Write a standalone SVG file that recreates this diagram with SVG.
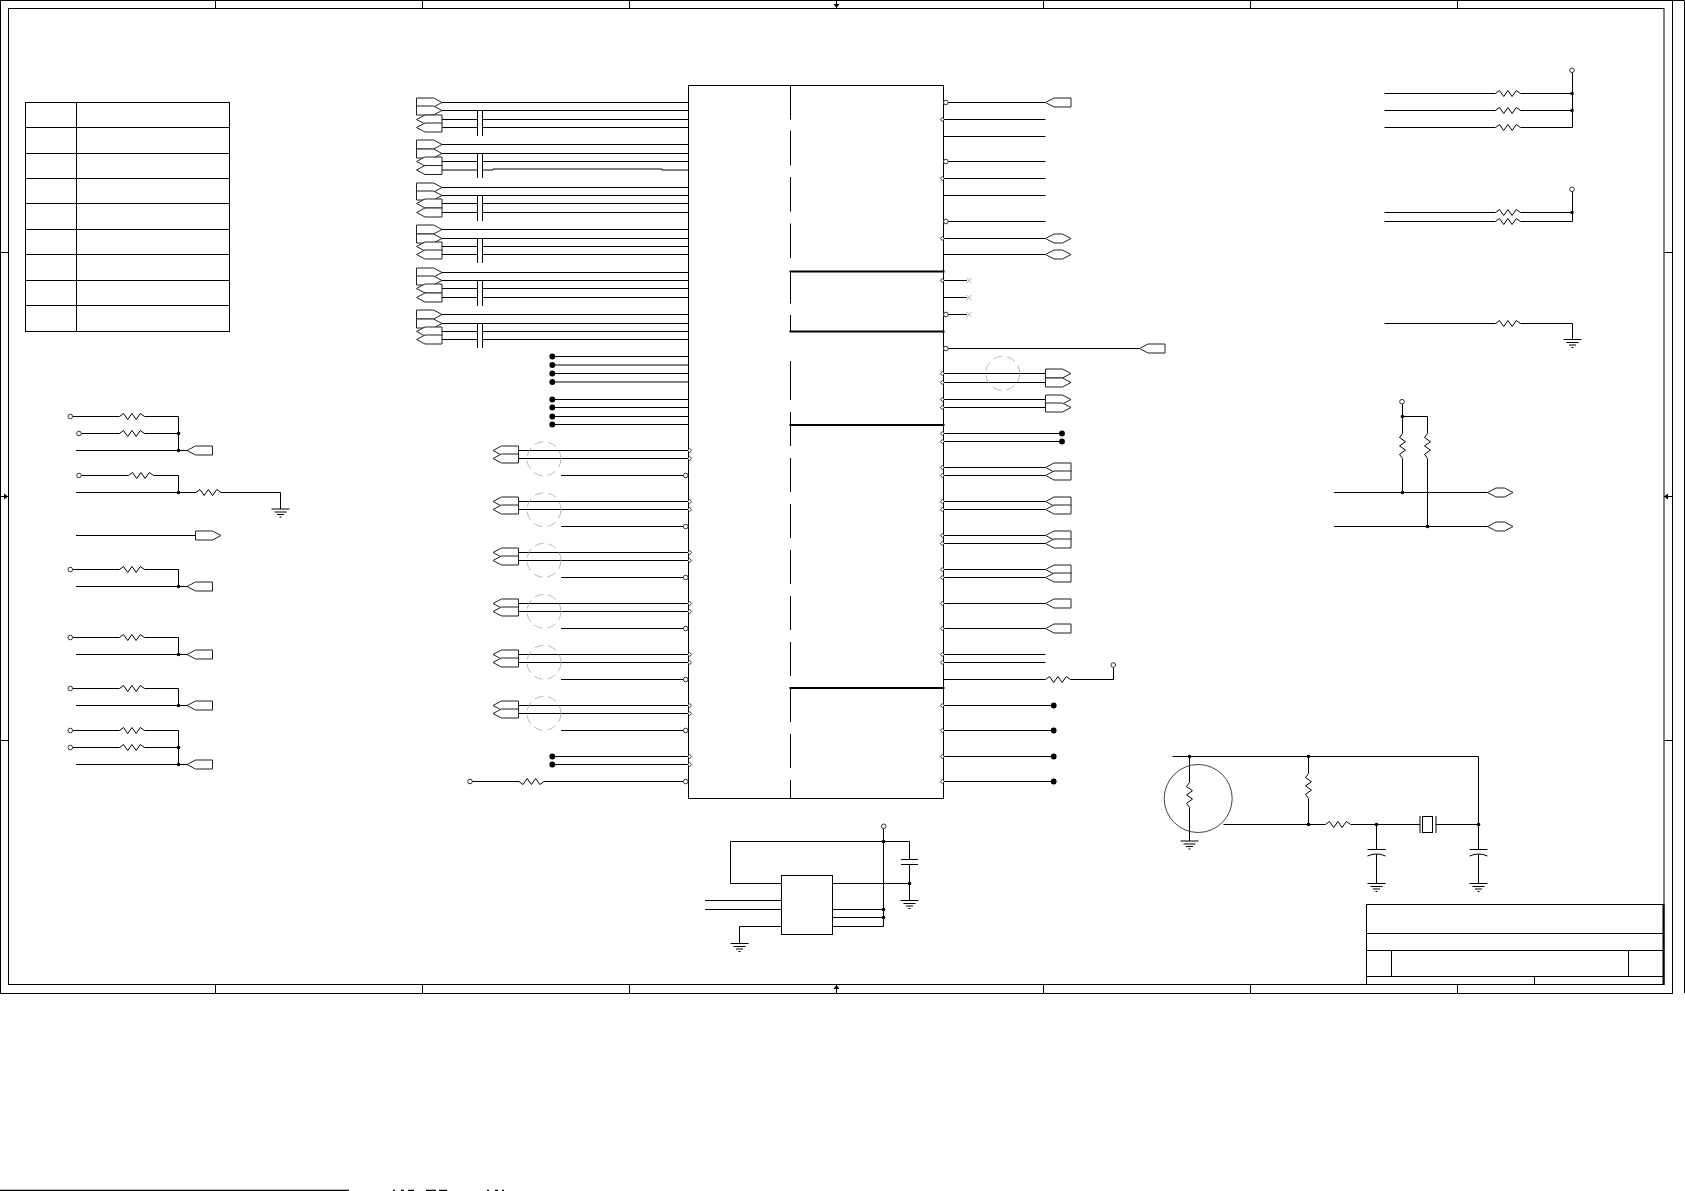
<svg xmlns="http://www.w3.org/2000/svg" xmlns:xlink="http://www.w3.org/1999/xlink" width="1685" height="1191" viewBox="0 0 1685 1191">
<style>
.w{fill:none;stroke:#000;stroke-width:1}
.h{fill:none;stroke:#000;stroke-width:2}
.p{fill:#fff;stroke:#222;stroke-width:1}
.o{fill:#fff;stroke:#333;stroke-width:1}
.f{fill:#000}
.r{fill:none;stroke:#000;stroke-width:1}
.g{fill:none;stroke:#aaa;stroke-width:.8;stroke-dasharray:9 5}
.x{fill:none;stroke:#999;stroke-width:.8}
</style>
<defs>
<path id="res" class="r" d="M0 0l4-3 4.2 6 4.2-6 4.2 6 4.2-6 4.2 3"/>
<path id="resd" class="r" d="M0 0l4 3 4.2-6 4.2 6 4.2-6 4.2 6 4.2-3"/>
<path id="resv" class="r" d="M0 0l-3 4 6 4.2-6 4.2 6 4.2-6 4.2 3 4.2"/>
<path id="pl" class="p" d="M0 0L8.5-4.5H25.5V4.5H8.5Z"/>
<path id="pr" class="p" d="M0-4.5H17L25.5 0 17 4.5H0Z"/>
<path id="hex" class="p" d="M0 0L8.5-4.5H17L25.5 0 17 4.5H8.5Z"/>
<path id="gnd" class="w" d="M-9 0H9M-6 3H6M-3.5 5.5H3.5M-1 8H1"/>
<circle id="j" class="f" r="1.8"/>
<circle id="b" class="f" r="2.9"/>
<circle id="c" class="o" r="2.3"/>
<path id="d" class="o" d="M-2 0L0-2 2 0 0 2Z"/>
<circle id="ring" class="g" r="17"/>
<path id="xm" class="x" d="M-2.5-2.5L2.5 2.5M-2.5 2.5L2.5-2.5"/>
<path id="cap" class="w" d="M-9 0H9M-9 6.5Q0 2.5 9 6.5"/>
</defs>
<rect width="1685" height="1191" fill="#fff"/>

<g id="frame">
<rect class="w" x=".5" y=".5" width="1672" height="993"/>
<rect class="w" x="8.5" y="8.5" width="1655.5" height="976"/>
<path class="w" d="M1672 .5H1684.5V993"/>
<path class="w" d="M215.5 0V8M422.5 0V8M629.5 0V8M836.5 0V8M1043.5 0V8M1250.5 0V8M1457.5 0V8M215.5 985V993M422.5 985V993M629.5 985V993M836.5 985V993M1043.5 985V993M1250.5 985V993M1457.5 985V993M0 252.5H8M0 496.5H8M0 740.5H8M1664 252.5H1672M1664 496.5H1672M1664 740.5H1672"/>
<path class="f" d="M833.5 4H839.5L836.5 8ZM833.5 989H839.5L836.5 985ZM4 493.5V499.5L8 496.5ZM1668 493.5V499.5L1664 496.5Z"/>
</g>

<g id="legend-table">
<rect class="w" x="25.5" y="102.5" width="204" height="229"/>
<path class="w" d="M76.5 102.5V331.5M25.5 127.5H229.5M25.5 153.5H229.5M25.5 178.5H229.5M25.5 203.5H229.5M25.5 229.5H229.5M25.5 254.5H229.5M25.5 280.5H229.5M25.5 305.5H229.5"/>
</g>

<g id="ic-main">
<rect class="w" x="688.5" y="85.5" width="255" height="713"/>
<path class="w" d="M790.5 85.5V119.5M790.5 130.5V165.5M790.5 177V211.5M790.5 223.5V258M790.5 272V303.5M790.5 315V332M790.5 361V400M790.5 412V446M790.5 458V492M790.5 504V538M790.5 550V584M790.5 596V630M790.5 642V676M790.5 688V722M790.5 734V768M790.5 780V798.5"/>
<path class="h" d="M789.5 271.5H944.5M789.5 425H944.5M789.5 688H944.5"/>
<path class="h" stroke-width="2.5" d="M789.5 331.5H944.5"/>
</g>

<g id="connectors">
<path class="w" d="M442 102.5H688M442 110.5H688M442 119.5H477M483 119.5H688M442 127.5H477M483 127.5H688
M442 144.5H688M442 153.5H688M442 161.5H477M483 161.5H688M442 170H477M483 170H493V169H662V170H688
M442 187.5H688M442 195.5H688M442 203.5H477M483 203.5H688M442 212.5H477M483 212.5H688
M442 229.5H688M442 238.5H688M442 246.5H477M483 246.5H688M442 254.5H477M483 254.5H688
M442 272.5H688M442 280.5H688M442 288.5H477M483 288.5H688M442 297.5H477M483 297.5H688
M442 314.5H688M442 323.5H688M442 331.5H477M483 331.5H688M442 339.5H477M483 339.5H688
M477.5 111V136M482.5 111V136M477.5 154V178M482.5 154V178M477.5 196V221M482.5 196V221M477.5 239V263M482.5 239V263M477.5 281V306M482.5 281V306M477.5 323.5V348M482.5 323.5V348
M552 356.5H688M552 365H688M552 373.5H688M552 382H688M552 399.5H688M552 407.5H688M552 416.5H688M552 424.5H688"/>
<path class="w" d="M518.5 450.5H688M518.5 458.5H688M561 475.5H684M518.5 501.5H688M518.5 509.5H688M561 526.5H684M518.5 552.5H688M518.5 560.5H688M561 577.5H684M518.5 603.5H688M518.5 611.5H688M561 628.5H684M518.5 654.5H688M518.5 662.5H688M561 679.5H684M518.5 705.5H688M518.5 713.5H688M561 730.5H684M552 756.5H688M552 764.5H688M472 781.5H519M544 781.5H684"/>
<path class="w" d="M947 102.5H1045.5M944 119.5H1045.5M944 136.5H1045.5M947 161.5H1045.5M944 178.5H1045.5M944 195.5H1045.5M947 221.5H1045.5M944 238.5H1045.5M944 254.5H1045.5M944 280.5H967M944 297.5H967M947 314.5H967M947 348.5H1139.5M944 373.5H1045.5M944 382.5H1045.5M944 399.5H1045.5M944 407.5H1045.5M944 433.5H1062M944 441.5H1062M944 467.5H1045.5M944 475.5H1045.5M944 501.5H1045.5M944 509.5H1045.5M944 535.5H1045.5M944 543.5H1045.5M944 569.5H1045.5M944 577.5H1045.5M944 603.5H1045.5M944 628.5H1045.5M944 654.5H1045.5M944 662.5H1045.5M944 679.5H1045.5M1070.5 679.5H1113.5V667.5M944 705.5H1053.5M944 730.5H1053.5M944 756.5H1053.5M944 781.5H1053.5"/>
<path class="w" d="M72.5 416.5H119.5M144.5 416.5H178.5V450.5M81 433.5H119.5M144.5 433.5H178.5M76 450.5H187M81 475.5H128.5M153.5 475.5H178.5V492.5M76 492.5H196M221 492.5H280.5V509M76 535.5H195.5M72.5 569.5H119.5M144.5 569.5H178.5V586.5M76 586.5H187M72.5 637.5H119.5M144.5 637.5H178.5V654.5M76 654.5H187M72.5 688.5H119.5M144.5 688.5H178.5V705.5M76 705.5H187M72.5 730.5H119.5M144.5 730.5H178.5V764.5M72.5 747.5H119.5M144.5 747.5H178.5M76 764.5H187"/>
<path class="w" d="M1384.5 93.5H1495.5M1520.5 93.5H1572.5M1384.5 110.5H1495.5M1520.5 110.5H1572.5M1384.5 127.5H1495.5M1520.5 127.5H1572.5V72.5M1384.5 212.5H1495.5M1520.5 212.5H1572.5M1384.5 221.5H1495.5M1520.5 221.5H1572.5V191.5M1384.5 323.5H1495.5M1520.5 323.5H1572.5V339.5"/>
<path class="w" d="M1402.5 404V433.5M1402.5 458.5V492.5M1402.5 416.5H1427.5V433.5M1427.5 458.5V526.5M1334 492.5H1487.5M1334 526.5H1487.5"/>
<path class="w" d="M883.5 828.5V926.5H832.5M730.5 841.5H909.5V859.5M909.5 865V900M730.5 841.5V883.5H781.5M832.5 883.5H909.5M832.5 909.5H883.5M832.5 917.5H883.5M705 900.5H781.5M705 909.5H781.5M781.5 926.5H739.5V943M901 859.5H918M901 864.5H918"/>
<path class="w" d="M1172.5 756.5H1478.5V849M1189.5 756.5V782.5M1189.5 807.5V841M1308.5 756.5V773.5M1308.5 798.5V824.5M1223.5 824.5H1325.5M1351 824.5H1420M1436 824.5H1478.5M1376.5 824.5V849M1376.5 854V883M1478.5 854V883"/>
</g>

<g id="ports-left-top">
<use href="#pr" x="416.5" y="102.5"/><use href="#pr" x="416.5" y="110.5"/><use href="#pl" x="416.5" y="119.5"/><use href="#pl" x="416.5" y="127.5"/>
<use href="#pr" x="416.5" y="144.5"/><use href="#pr" x="416.5" y="153.5"/><use href="#pl" x="416.5" y="161.5"/><use href="#pl" x="416.5" y="170"/>
<use href="#pr" x="416.5" y="187.5"/><use href="#pr" x="416.5" y="195.5"/><use href="#pl" x="416.5" y="203.5"/><use href="#pl" x="416.5" y="212.5"/>
<use href="#pr" x="416.5" y="229.5"/><use href="#pr" x="416.5" y="238.5"/><use href="#pl" x="416.5" y="246.5"/><use href="#pl" x="416.5" y="254.5"/>
<use href="#pr" x="416.5" y="272.5"/><use href="#pr" x="416.5" y="280.5"/><use href="#pl" x="416.5" y="288.5"/><use href="#pl" x="416.5" y="297.5"/>
<use href="#pr" x="416.5" y="314.5"/><use href="#pr" x="416.5" y="323.5"/><use href="#pl" x="416.5" y="331.5"/><use href="#pl" x="416.5" y="339.5"/>
</g>
<g id="test-points-left">
<use href="#b" x="552.3" y="356.5"/><use href="#b" x="552.3" y="365"/><use href="#b" x="552.3" y="373.5"/><use href="#b" x="552.3" y="382"/><use href="#b" x="552.3" y="399.5"/><use href="#b" x="552.3" y="407.5"/><use href="#b" x="552.3" y="416.5"/><use href="#b" x="552.3" y="424.5"/><use href="#b" x="552.3" y="756.5"/><use href="#b" x="552.3" y="764.5"/>
</g>
<g id="ports-left-lower">
<use href="#pl" x="493" y="450.5"/><use href="#pl" x="493" y="458.5"/><use href="#ring" x="544" y="458.8"/>
<use href="#pl" x="493" y="501.5"/><use href="#pl" x="493" y="509.5"/><use href="#ring" x="544" y="509.7"/>
<use href="#pl" x="493" y="552.5"/><use href="#pl" x="493" y="560.5"/><use href="#ring" x="544" y="560.3"/>
<use href="#pl" x="493" y="603.5"/><use href="#pl" x="493" y="611.5"/><use href="#ring" x="544" y="611.3"/>
<use href="#pl" x="493" y="654.5"/><use href="#pl" x="493" y="662.5"/><use href="#ring" x="544" y="662.3"/>
<use href="#pl" x="493" y="705.5"/><use href="#pl" x="493" y="713.5"/><use href="#ring" x="544" y="713.3"/>
</g>
<g id="pins-left">
<use href="#d" x="689.7" y="450.5"/><use href="#d" x="689.7" y="458.5"/><use href="#c" x="685.7" y="475.5"/>
<use href="#d" x="689.7" y="501.5"/><use href="#d" x="689.7" y="509.5"/><use href="#c" x="685.7" y="526.5"/>
<use href="#d" x="689.7" y="552.5"/><use href="#d" x="689.7" y="560.5"/><use href="#c" x="685.7" y="577.5"/>
<use href="#d" x="689.7" y="603.5"/><use href="#d" x="689.7" y="611.5"/><use href="#c" x="685.7" y="628.5"/>
<use href="#d" x="689.7" y="654.5"/><use href="#d" x="689.7" y="662.5"/><use href="#c" x="685.7" y="679.5"/>
<use href="#d" x="689.7" y="705.5"/><use href="#d" x="689.7" y="713.5"/><use href="#c" x="685.7" y="730.5"/>
<use href="#d" x="689.7" y="756.5"/><use href="#d" x="689.7" y="764.5"/><use href="#c" x="685.7" y="781.5"/>
</g>
<g id="reset-pullup">
<use href="#c" x="470" y="781.5"/><use href="#resd" x="519" y="781.5"/>
</g>
<g id="pins-right">
<use href="#c" x="945.8" y="102.5"/><use href="#c" x="945.8" y="161.5"/><use href="#c" x="945.8" y="221.5"/><use href="#c" x="945.8" y="314.5"/><use href="#c" x="945.8" y="348.5"/>
<use href="#d" x="942.3" y="119.5"/><use href="#d" x="942.3" y="178.5"/><use href="#d" x="942.3" y="238.5"/><use href="#d" x="942.3" y="280.5"/><use href="#d" x="942.3" y="373.5"/><use href="#d" x="942.3" y="382.5"/><use href="#d" x="942.3" y="399.5"/><use href="#d" x="942.3" y="407.5"/><use href="#d" x="942.3" y="433.5"/><use href="#d" x="942.3" y="441.5"/><use href="#d" x="942.3" y="467.5"/><use href="#d" x="942.3" y="475.5"/><use href="#d" x="942.3" y="501.5"/><use href="#d" x="942.3" y="509.5"/><use href="#d" x="942.3" y="535.5"/><use href="#d" x="942.3" y="543.5"/><use href="#d" x="942.3" y="569.5"/><use href="#d" x="942.3" y="577.5"/><use href="#d" x="942.3" y="603.5"/><use href="#d" x="942.3" y="628.5"/><use href="#d" x="942.3" y="654.5"/><use href="#d" x="942.3" y="662.5"/><use href="#d" x="942.3" y="705.5"/><use href="#d" x="942.3" y="730.5"/><use href="#d" x="942.3" y="756.5"/><use href="#d" x="942.3" y="781.5"/>
</g>
<g id="ports-right">
<use href="#pl" x="1045.5" y="102.5"/><use href="#hex" x="1045.5" y="238.5"/><use href="#hex" x="1045.5" y="254.5"/>
<use href="#xm" x="969" y="280.5"/><use href="#xm" x="969" y="297.5"/><use href="#xm" x="969" y="314.5"/>
<use href="#pl" x="1139.5" y="348.5"/><use href="#ring" x="1002.7" y="373.3"/>
<use href="#pr" x="1045.5" y="373.5"/><use href="#pr" x="1045.5" y="382.5"/><use href="#pr" x="1045.5" y="399.5"/><use href="#pr" x="1045.5" y="407.5"/>
<use href="#b" x="1062" y="433.5"/><use href="#b" x="1062" y="441.5"/>
<use href="#pl" x="1045.5" y="467.5"/><use href="#pl" x="1045.5" y="475.5"/><use href="#pl" x="1045.5" y="501.5"/><use href="#pl" x="1045.5" y="509.5"/><use href="#pl" x="1045.5" y="535.5"/><use href="#pl" x="1045.5" y="543.5"/><use href="#pl" x="1045.5" y="569.5"/><use href="#pl" x="1045.5" y="577.5"/><use href="#pl" x="1045.5" y="603.5"/><use href="#pl" x="1045.5" y="628.5"/>
<use href="#res" x="1045.5" y="679.5"/><use href="#c" x="1113.3" y="665"/>
<use href="#b" x="1053.7" y="705.5"/><use href="#b" x="1053.7" y="730.5"/><use href="#b" x="1053.7" y="756.5"/><use href="#b" x="1053.7" y="781.5"/>
</g>
<g id="left-straps">
<use href="#c" x="70.3" y="416.5"/><use href="#res" x="119.5" y="416.5"/><use href="#c" x="79" y="433.5"/><use href="#res" x="119.5" y="433.5"/><use href="#j" x="178.5" y="433.5"/><use href="#j" x="178.5" y="450.5"/><use href="#pl" x="187" y="450.5"/>
<use href="#c" x="79" y="475.5"/><use href="#res" x="128.5" y="475.5"/><use href="#j" x="178.5" y="492.5"/><use href="#res" x="196" y="492.5"/><use href="#gnd" x="280.5" y="509"/>
<use href="#pr" x="195.5" y="535.5"/>
<use href="#c" x="70.3" y="569.5"/><use href="#res" x="119.5" y="569.5"/><use href="#j" x="178.5" y="586.5"/><use href="#pl" x="187" y="586.5"/>
<use href="#c" x="70.3" y="637.5"/><use href="#res" x="119.5" y="637.5"/><use href="#j" x="178.5" y="654.5"/><use href="#pl" x="187" y="654.5"/>
<use href="#c" x="70.3" y="688.5"/><use href="#res" x="119.5" y="688.5"/><use href="#j" x="178.5" y="705.5"/><use href="#pl" x="187" y="705.5"/>
<use href="#c" x="70.3" y="730.5"/><use href="#res" x="119.5" y="730.5"/><use href="#c" x="70.3" y="747.5"/><use href="#res" x="119.5" y="747.5"/><use href="#j" x="178.5" y="747.5"/><use href="#j" x="178.5" y="764.5"/><use href="#pl" x="187" y="764.5"/>
</g>
<g id="right-pullups">
<use href="#c" x="1572" y="70.3"/><use href="#res" x="1495.5" y="93.5"/><use href="#res" x="1495.5" y="110.5"/><use href="#res" x="1495.5" y="127.5"/><use href="#j" x="1572" y="93.5"/><use href="#j" x="1572" y="110.5"/>
<use href="#c" x="1572" y="189.3"/><use href="#res" x="1495.5" y="212.5"/><use href="#res" x="1495.5" y="221.5"/><use href="#j" x="1572" y="212.5"/>
<use href="#res" x="1495.5" y="323.5"/><use href="#gnd" x="1572.5" y="339.5"/>
</g>
<g id="i2c-pullups">
<use href="#c" x="1402" y="401.7"/><use href="#j" x="1402.5" y="416.5"/><use href="#resv" x="1402.5" y="433.5"/><use href="#resv" x="1427.5" y="433.5"/><use href="#j" x="1402.5" y="492.5"/><use href="#j" x="1427.5" y="526.5"/><use href="#hex" x="1487.5" y="492.5"/><use href="#hex" x="1487.5" y="526.5"/>
</g>
<g id="eeprom">
<rect class="w" x="781.5" y="875.5" width="51" height="59"/>
<use href="#c" x="883.7" y="826.3"/><use href="#j" x="883.5" y="841.5"/><use href="#j" x="883.5" y="909.5"/><use href="#j" x="883.5" y="917.5"/><use href="#j" x="909.5" y="883.5"/><use href="#gnd" x="909.5" y="900.5"/><use href="#gnd" x="739.5" y="943.5"/>
</g>
<g id="oscillator">
<circle cx="1198.2" cy="798.5" r="34" fill="none" stroke="#444" stroke-width="1"/>
<use href="#resv" x="1189.5" y="782.5"/><use href="#j" x="1189.5" y="756.5"/><use href="#gnd" x="1189.5" y="841"/>
<use href="#j" x="1308.5" y="756.5"/><use href="#resv" x="1308.5" y="773.5"/><use href="#j" x="1308.5" y="824.5"/>
<use href="#res" x="1325.5" y="824.5"/><use href="#j" x="1376.5" y="824.5"/><use href="#j" x="1478.5" y="824.5"/>
<path class="w" d="M1420 816V833M1436 816V833"/><rect class="w" x="1422.5" y="816.5" width="10" height="16"/>
<use href="#cap" x="1376.5" y="849.5"/><use href="#cap" x="1478.5" y="849.5"/><use href="#gnd" x="1376.5" y="883.5"/><use href="#gnd" x="1478.5" y="883.5"/>
</g>
<g id="title-block">
<path class="w" d="M1366.5 984.5V904.5H1664M1366.5 933.5H1664M1366.5 950.5H1664M1366.5 976.5H1664M1391.5 950.5V976.5M1628.5 950.5V976.5M1534.5 976.5V984.5"/>
<path class="h" d="M1663.5 904V985"/>
</g>
<g id="page-edge">
<path d="M0 1190.5H349" stroke="#000" stroke-width="1.5" fill="none"/>
<path d="M393 1190.5H504" stroke="#000" stroke-width="1.5" fill="none" stroke-dasharray="2 6 3 4 6 12 10 3 8 40"/>
</g>
</svg>
